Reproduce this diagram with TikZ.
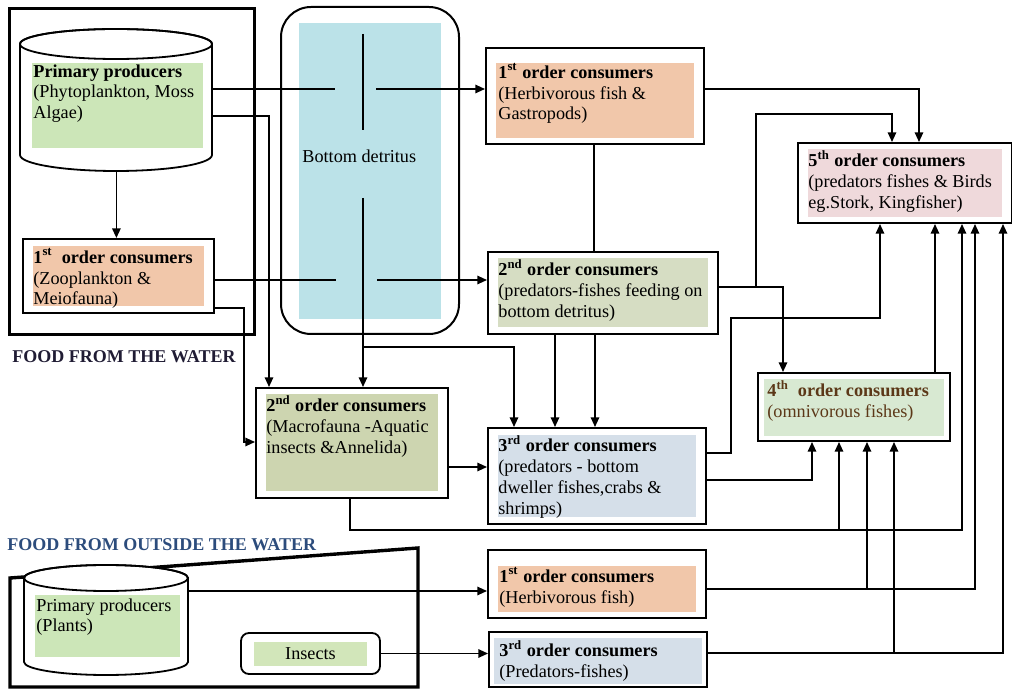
\documentclass[tikz,border=0pt]{standalone}
\usepackage{fontspec}
\setmainfont{Liberation Serif}
\usetikzlibrary{arrows.meta}

\definecolor{prodgreen}{RGB}{204,230,184}
\definecolor{ord1}{RGB}{241,199,170}
\definecolor{ord2}{RGB}{214,221,195}
\definecolor{ord2m}{RGB}{205,213,176}
\definecolor{ord3}{RGB}{213,223,233}
\definecolor{ord4}{RGB}{216,233,210}
\definecolor{ord5}{RGB}{239,217,219}
\definecolor{detcyan}{RGB}{187,226,232}
\definecolor{insgreen}{RGB}{210,230,186}
\definecolor{waternavy}{RGB}{32,28,52}
\definecolor{landblue}{RGB}{44,76,124}
\definecolor{omnibrown}{RGB}{92,56,24}

\tikzset{
  innerfill/.style n args={4}{path picture={\fill[#1,sharp corners] ([shift={(#2,-#3)}]path picture bounding box.north west) rectangle ([shift={(-#2,#4)}]path picture bounding box.south east);}},
  orderbox/.style={draw,line width=1pt,fill=white,anchor=north west,inner sep=0pt},
  txt/.style={anchor=north west,align=left,inner sep=0pt,font=\fontsize{9.1}{10.4}\selectfont},
  lbl/.style={anchor=base west,inner sep=0pt,font=\bfseries\fontsize{9}{10}\selectfont},
  cylline/.style={line width=0.9pt,fill=white},
  thickframe/.style={line width=1.7pt},
  flow/.style={line width=0.8pt}
}

\begin{document}
\begin{tikzpicture}[x=0.5pt,y=-0.5pt,>={Triangle[length=4.8pt,width=4.2pt]}]
\useasboundingbox (0,0) rectangle (1012,689);

% food from the water
\node[draw,thickframe,anchor=north west,minimum width=122.5pt,minimum height=163pt,inner sep=0pt] (waterframe) at (8,7) {};
\node[lbl,text=waternavy] (waterlbl) at (12,363) {FOOD FROM THE WATER};

\node[anchor=north west,minimum width=96pt,minimum height=71pt,inner sep=0pt] (prodW) at (20,29) {};
\draw[cylline] (20,44) -- (20,155) arc[start angle=180,end angle=360,x radius=48pt,y radius=8pt] -- (212,44) arc[start angle=0,end angle=180,x radius=48pt,y radius=7.5pt] -- cycle;
\draw[line width=0.9pt] (116,44) ellipse [x radius=48pt,y radius=7.5pt];
\fill[prodgreen] (32,63) rectangle (203,148);
\node[txt] (prodW-t) at (33,64) {\textbf{Primary producers}\\(Phytoplankton, Moss\\Algae)};

\node[orderbox,minimum width=95.5pt,minimum height=37pt,innerfill={ord1}{5pt}{3.5pt}{3.5pt}] (zooW) at (22,238) {};
\node[txt] (zooW-t) at (33,248) {\textbf{1\textsuperscript{st}\ \ order consumers}\\(Zooplankton \&\\Meiofauna)};

\node[draw,line width=1pt,fill=white,rounded corners=15pt,anchor=north west,minimum width=89pt,minimum height=163.5pt,inner sep=0pt,innerfill={detcyan}{9pt}{8pt}{7.5pt}] (detr) at (280,6) {};
\node[txt,anchor=base west] (detr-t) at (302,163) {Bottom detritus};

% consumers
\node[orderbox,minimum width=109pt,minimum height=48pt,innerfill={ord1}{5pt}{7.5pt}{3pt}] (herbA) at (485,47) {};
\node[txt] (herbA-t) at (498,63) {\textbf{1\textsuperscript{st} order consumers}\\(Herbivorous fish \&\\Gastropods)};

\node[orderbox,minimum width=115pt,minimum height=41pt,innerfill={ord2}{5pt}{3pt}{3.5pt}] (predB) at (487,251) {};
\node[txt] (predB-t) at (498,259) {\textbf{2\textsuperscript{nd} order consumers}\\(predators-fishes feeding on\\bottom detritus)};

\node[orderbox,minimum width=96pt,minimum height=55pt,innerfill={ord2m}{5pt}{3pt}{3.5pt}] (macro) at (255,387) {};
\node[txt] (macro-t) at (266,395) {\textbf{2\textsuperscript{nd} order consumers}\\(Macrofauna -Aquatic\\insects \&Annelida)};

\node[orderbox,minimum width=109pt,minimum height=48pt,innerfill={ord3}{5pt}{3.5pt}{3.5pt}] (thirdA) at (487,427) {};
\node[txt] (thirdA-t) at (498,435) {\textbf{3\textsuperscript{rd} order consumers}\\(predators - bottom\\dweller fishes,crabs \&\\shrimps)};

\node[orderbox,minimum width=96pt,minimum height=34pt,innerfill={ord4}{3pt}{3pt}{2.5pt}] (fourth) at (757,372) {};
\node[txt,text=omnibrown] (fourth-t) at (767,380) {\textbf{4\textsuperscript{th}\ \ order consumers}\\(omnivorous fishes)};

\node[orderbox,minimum width=107pt,minimum height=40pt,innerfill={ord5}{5pt}{3pt}{3pt}] (fifth) at (797,142) {};
\node[txt] (fifth-t) at (808,150) {\textbf{5\textsuperscript{th} order consumers}\\(predators fishes \& Birds\\eg.Stork, Kingfisher)};

% food from outside the water
\node[lbl,text=landblue] (landlbl) at (7,550) {FOOD FROM OUTSIDE THE WATER};
\draw[thickframe] (10,578) -- (418,548) -- (418,687) -- (10,687) -- cycle;

\node[anchor=north west,minimum width=82pt,minimum height=55pt,inner sep=0pt] (prodL) at (24,565) {};
\draw[cylline] (24,578) -- (24,662) arc[start angle=180,end angle=360,x radius=41pt,y radius=6.5pt] -- (188,578) arc[start angle=0,end angle=180,x radius=41pt,y radius=6.5pt] -- cycle;
\draw[line width=0.9pt] (106,578) ellipse [x radius=41pt,y radius=6.5pt];
\fill[prodgreen] (35,595) rectangle (180,657);
\node[txt] (prodL-t) at (36,598) {Primary producers\\(Plants)};

\node[draw,line width=0.9pt,fill=white,rounded corners=4pt,minimum width=69.5pt,minimum height=20.5pt,inner sep=0pt,innerfill={insgreen}{6.3pt}{4.5pt}{4pt},font=\fontsize{9.1}{10.4}\selectfont] (insects) at (310.5,653.5) {Insects};

\node[orderbox,minimum width=109pt,minimum height=34pt,innerfill={ord1}{5pt}{8pt}{3pt}] (herbL) at (487,549) {};
\node[txt] (herbL-t) at (499,567) {\textbf{1\textsuperscript{st} order consumers}\\(Herbivorous fish)};

\node[orderbox,minimum width=109pt,minimum height=27.5pt,innerfill={ord3}{2.5pt}{3pt}{1.5pt}] (thirdL) at (488,631) {};
\node[txt] (thirdL-t) at (499,640) {\textbf{3\textsuperscript{rd} order consumers}\\(Predators-fishes)};

% crossings in the detritus
\coordinate (inA) at (335,89);
\coordinate (outA) at (376,89);
\coordinate (inB) at (336,280);
\coordinate (outB) at (377,280);
\coordinate (barA1) at (363,34);
\coordinate (barA2) at (363,130);
\coordinate (barB) at (363,198);
\coordinate (jM) at (839,530);
\coordinate (jH) at (867,589);
\coordinate (jP) at (894,653);

% flows
\draw[flow] (prodW.east |- inA) -- (inA);
\draw[flow,->] (outA) -- (herbA.west |- outA);
\draw[flow] (barA1) -- (barA2);
\draw[flow,->] (prodW.east |- 0,116) -| (macro.north -| 269,0);
\draw[flow,->] (prodW.south) -- (prodW.south |- zooW.north);
\draw[flow] (zooW.east |- inB) -- (inB);
\draw[flow,->] (outB) -- (predB.west |- outB);
\draw[flow,->] (zooW.east |- 0,308) -- ++(29,0) |- (macro.west |- 0,442);
\draw[flow,->] (barB) -- (barB |- macro.north);
\draw[flow,->] (barB |- 0,347) -| (thirdA.north -| 514,0);
\draw[flow] (herbA.south -| 594,0) -- (predB.north -| 594,0);
\draw[flow,->] (herbA.east |- 0,89) -| (fifth.north -| 919,0);
\draw[flow,->] (predB.east |- 0,287) -| (fourth.north -| 783,0);
\draw[flow,->] (predB.east |- 0,287) -| (756,114) -| (fifth.north -| 892,0);
\draw[flow,->] (predB.south -| 555,0) -- (thirdA.north -| 555,0);
\draw[flow,->] (predB.south -| 595,0) -- (thirdA.north -| 595,0);
\draw[flow,->] (macro.east |- 0,467) -- (thirdA.west |- 0,467);
\draw[flow,->] (thirdA.east |- 0,453) -| (731,318) -| (fifth.south -| 880,0);
\draw[flow,->] (thirdA.east |- 0,480) -| (fourth.south -| 812,0);
\draw[flow,->] (macro.south -| 350,0) |- (jM) -| (fifth.south -| 962,0);
\draw[flow,->] (jM) -- (fourth.south -| jM);
\draw[flow,->] (herbL.east |- jH) -| (fifth.south -| 975,0);
\draw[flow,->] (jH) -- (fourth.south -| jH);
\draw[flow,->] (thirdL.east |- jP) -| (fifth.south -| 1003,0);
\draw[flow,->] (jP) -- (fourth.south -| jP);
\draw[flow,->] (fourth.north -| 935,0) -- (fifth.south -| 935,0);
\draw[flow,->] (prodL.east |- 0,591) -- (herbL.west |- 0,591);
\draw[flow,->] (insects.east) -- (thirdL.west |- insects.east);
\end{tikzpicture}
\end{document}
